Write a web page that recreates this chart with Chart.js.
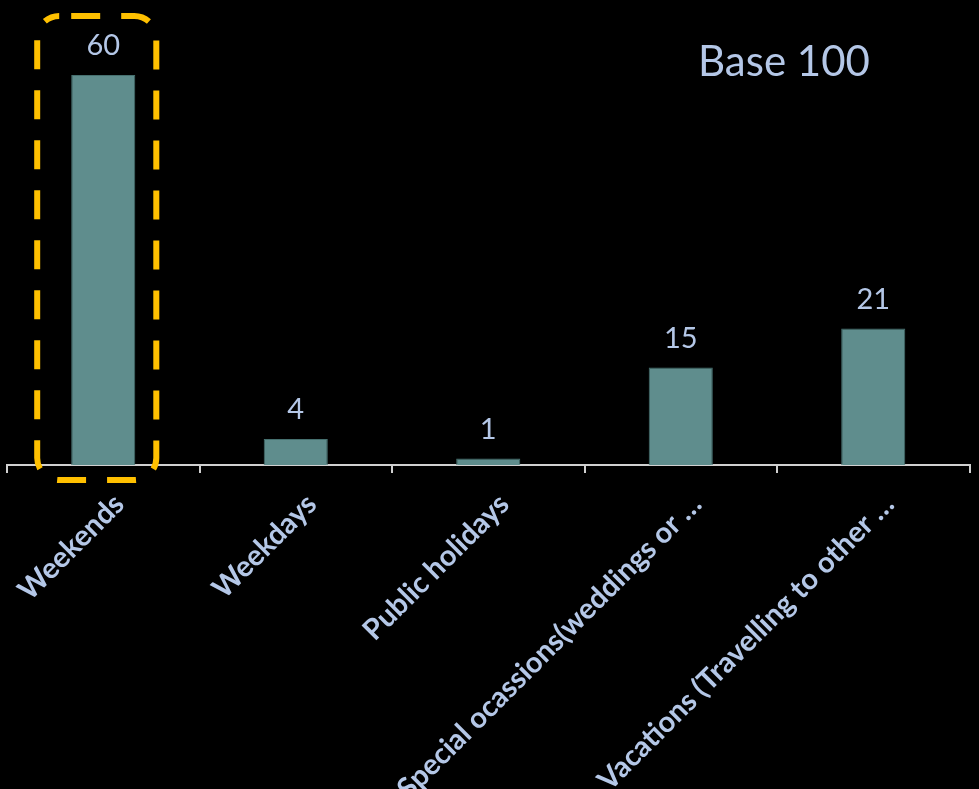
<!DOCTYPE html>
<html>
<head>
<meta charset="utf-8">
<script src="https://cdn.jsdelivr.net/npm/chart.js@4/dist/chart.umd.min.js"></script>
<style>
  html, body { margin: 0; padding: 0; background: #000; overflow: hidden; }
  #wrap { position: relative; width: 979px; height: 789px; }
</style>
</head>
<body>
<div id="wrap"><canvas id="c" width="979" height="789"></canvas></div>
<script>
// Occasions and their shares (base 100)
const categories = [
  'Weekends',
  'Weekdays',
  'Public holidays',
  'Special ocassions(weddings or …',
  'Vacations (Travelling to other …'
];
const shares = [60, 4, 1, 15, 21];
const highlightIndex = 0;
const baseNote = 'Base 100';

const labelColor = '#b4c7e7';
const axisColor = '#d0d0d0';

// Value labels above each bar, the "Base" note and the dashed highlight frame
const overlay = {
  id: 'overlay',
  afterDatasetsDraw(chart) {
    const ctx = chart.ctx;
    const meta = chart.getDatasetMeta(0);
    const area = chart.chartArea;
    ctx.save();
    ctx.fillStyle = labelColor;
    ctx.font = '29px Lato';
    ctx.textAlign = 'center';
    ctx.textBaseline = 'alphabetic';
    meta.data.forEach((bar, i) => {
      ctx.fillText(String(shares[i]), bar.x, bar.y - 20);
    });

    ctx.font = '42px Lato';
    ctx.textAlign = 'left';
    ctx.fillText(baseNote, chart.width * 0.713, 76);

    const hb = meta.data[highlightIndex];
    const left = hb.x - hb.width / 2 - 34;
    const right = hb.x + hb.width / 2 + 21;
    const top = area.top + 6;
    const bottom = hb.base + 15;
    ctx.strokeStyle = '#ffc000';
    ctx.lineWidth = 6;
    ctx.setLineDash([29, 21]);
    ctx.lineDashOffset = -12;
    ctx.beginPath();
    ctx.roundRect(left, top, right - left, bottom - top, 22);
    ctx.stroke();
    ctx.restore();
  }
};

new Chart(document.getElementById('c'), {
  type: 'bar',
  data: {
    labels: categories,
    datasets: [{
      data: shares,
      backgroundColor: '#5f8d8d',
      borderColor: '#46706f',
      borderWidth: 1,
      categoryPercentage: 1,
      barPercentage: 0.333
    }]
  },
  options: {
    responsive: false,
    animation: false,
    devicePixelRatio: 1,
    layout: { padding: { top: 10, left: 7, right: 9.5, bottom: 0 } },
    plugins: {
      legend: { display: false },
      tooltip: { enabled: false }
    },
    scales: {
      x: {
        offset: true,
        grid: {
          offset: true,
          drawOnChartArea: false,
          drawTicks: true,
          tickLength: 8,
          color: axisColor,
          lineWidth: 2
        },
        border: { display: true, color: axisColor, width: 2 },
        ticks: {
          color: labelColor,
          font: { family: 'Lato', size: 29, weight: 'bold' },
          minRotation: 45,
          maxRotation: 45,
          autoSkip: false,
          padding: 14,
          labelOffset: 16
        },
        afterFit(scale) {
          // fixed axis band; rotated labels may run off the bottom edge
          scale.height = 324;
          scale.paddingLeft = 0;
          scale.paddingRight = 0;
        }
      },
      y: {
        display: false,
        min: 0,
        max: 70
      }
    }
  },
  plugins: [overlay]
});
</script>
</body>
</html>
